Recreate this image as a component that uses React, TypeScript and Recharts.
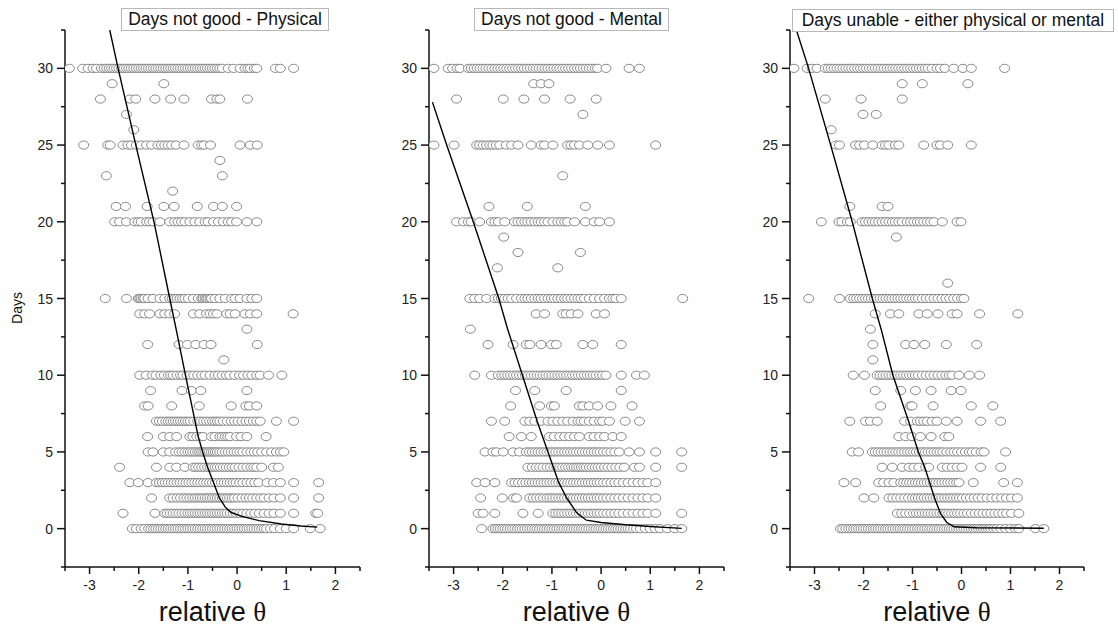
import React from 'react';
import { ScatterChart, Scatter, XAxis, YAxis } from 'recharts';

type Row = [number, number[]];

// days -> relative theta of every respondent at that level
const physicalRows: Row[] = [
  [30, [-3.41, -3.14, -3.03, -2.93, -2.86, -2.76, -2.7, -2.65, -2.6, -2.55, -2.5, -2.45, -2.4, -2.35, -2.3, -2.25, -2.2, -2.15, -2.1, -2.05, -2.0, -1.95, -1.9, -1.85, -1.8, -1.75, -1.7, -1.65, -1.6, -1.55, -1.5, -1.45, -1.4, -1.35, -1.3, -1.25, -1.2, -1.15, -1.1, -1.05, -1.0, -0.95, -0.9, -0.85, -0.8, -0.75, -0.7, -0.65, -0.6, -0.55, -0.5, -0.45, -0.4, -0.35, -0.3, -0.18, -0.07, 0.06, 0.16, 0.22, 0.27, 0.35, 0.4, 0.78, 0.88, 1.15]],
  [29, [-2.54, -1.49]],
  [28, [-2.78, -2.18, -2.06, -1.67, -1.35, -1.08, -0.52, -0.41, -0.35, 0.21]],
  [27, [-2.25]],
  [26, [-2.1]],
  [25, [-3.12, -2.63, -2.58, -2.32, -2.22, -2.15, -2.05, -1.95, -1.84, -1.74, -1.61, -1.54, -1.47, -1.4, -1.33, -1.24, -1.08, -0.79, -0.72, -0.67, -0.54, 0.06, 0.27, 0.41]],
  [24, [-0.35]],
  [23, [-2.66, -0.3]],
  [22, [-1.31]],
  [21, [-2.46, -2.27, -1.83, -1.49, -1.28, -0.81, -0.48, -0.3, -0.01]],
  [20, [-2.49, -2.39, -2.25, -2.08, -2.01, -1.95, -1.84, -1.78, -1.71, -1.57, -1.37, -1.27, -1.2, -1.13, -1.06, -0.96, -0.86, -0.76, -0.65, -0.59, -0.48, -0.38, -0.28, -0.18, -0.11, -0.01, 0.2, 0.4]],
  [15, [-2.68, -2.25, -2.01, -1.98, -1.95, -1.91, -1.88, -1.81, -1.71, -1.57, -1.47, -1.37, -1.32, -1.27, -1.22, -1.16, -1.11, -1.06, -0.99, -0.89, -0.79, -0.72, -0.69, -0.65, -0.62, -0.59, -0.55, -0.52, -0.45, -0.35, -0.24, -0.11, -0.04, 0.06, 0.2, 0.3, 0.4]],
  [14, [-1.98, -1.88, -1.78, -1.57, -1.47, -1.37, -1.27, -0.89, -0.76, -0.62, -0.55, -0.48, -0.41, -0.21, -0.14, -0.04, 0.16, 0.27, 0.4, 1.14]],
  [13, [0.2]],
  [12, [-1.82, -1.18, -1.01, -0.84, -0.67, -0.53, 0.41]],
  [11, [-0.27]],
  [10, [-1.98, -1.85, -1.72, -1.65, -1.55, -1.48, -1.4, -1.35, -1.3, -1.22, -1.15, -1.1, -1.02, -0.95, -0.88, -0.8, -0.72, -0.65, -0.55, -0.45, -0.38, -0.3, -0.22, -0.15, -0.05, 0.05, 0.13, 0.22, 0.3, 0.4, 0.47, 0.64, 0.91]],
  [9, [-1.76, -1.12, -0.93, -0.74, 0.2]],
  [8, [-1.88, -1.81, -1.33, -0.77, -0.12, 0.18, 0.25, 0.4]],
  [7, [-1.64, -1.58, -1.52, -1.45, -1.4, -1.35, -1.3, -1.25, -1.2, -1.15, -1.1, -1.05, -1.0, -0.95, -0.88, -0.8, -0.74, -0.68, -0.62, -0.56, -0.5, -0.45, -0.4, -0.35, -0.28, -0.2, -0.12, -0.05, 0.02, 0.1, 0.18, 0.25, 0.33, 0.4, 0.47, 0.8, 1.15]],
  [6, [-1.82, -1.5, -1.37, -1.23, -0.96, -0.9, -0.82, -0.75, -0.69, -0.52, -0.45, -0.35, -0.3, -0.24, -0.19, -0.14, -0.01, 0.08, 0.2, 0.59]],
  [5, [-1.81, -1.71, -1.5, -1.37, -1.25, -1.18, -1.12, -1.06, -1.0, -0.95, -0.9, -0.85, -0.8, -0.76, -0.72, -0.68, -0.64, -0.6, -0.56, -0.52, -0.48, -0.44, -0.4, -0.35, -0.3, -0.24, -0.18, -0.12, -0.06, 0.0, 0.06, 0.12, 0.2, 0.28, 0.35, 0.42, 0.5, 0.6, 0.7, 0.8, 0.88, 0.95]],
  [4, [-2.39, -1.64, -1.37, -1.23, -1.06, -0.89, -0.84, -0.78, -0.72, -0.66, -0.6, -0.55, -0.5, -0.45, -0.4, -0.34, -0.28, -0.22, -0.16, -0.1, -0.04, 0.04, 0.12, 0.2, 0.28, 0.34, 0.4, 0.5, 0.74, 0.84]],
  [3, [-2.18, -2.01, -1.81, -1.64, -1.58, -1.52, -1.46, -1.4, -1.34, -1.28, -1.22, -1.16, -1.1, -1.04, -0.98, -0.92, -0.86, -0.8, -0.74, -0.68, -0.62, -0.56, -0.5, -0.44, -0.38, -0.32, -0.26, -0.2, -0.14, -0.08, -0.02, 0.05, 0.12, 0.2, 0.28, 0.36, 0.44, 0.61, 0.74, 0.88, 1.15, 1.66]],
  [2, [-1.74, -1.37, -1.3, -1.22, -1.15, -1.08, -1.02, -0.96, -0.9, -0.85, -0.8, -0.75, -0.7, -0.65, -0.6, -0.55, -0.5, -0.45, -0.4, -0.35, -0.3, -0.25, -0.2, -0.15, -0.1, -0.05, 0.02, 0.1, 0.18, 0.25, 0.32, 0.4, 0.48, 0.55, 0.65, 0.75, 0.88, 1.15, 1.66]],
  [1, [-2.32, -1.67, -1.47, -1.42, -1.36, -1.3, -1.24, -1.18, -1.12, -1.06, -1.0, -0.95, -0.9, -0.85, -0.8, -0.75, -0.7, -0.65, -0.6, -0.55, -0.5, -0.45, -0.4, -0.35, -0.3, -0.25, -0.2, -0.14, -0.08, -0.02, 0.05, 0.12, 0.2, 0.28, 0.36, 0.45, 0.55, 0.65, 0.75, 0.88, 1.15, 1.6, 1.64]],
  [0, [-2.13, -2.05, -1.95, -1.88, -1.8, -1.75, -1.7, -1.65, -1.6, -1.55, -1.5, -1.45, -1.4, -1.35, -1.3, -1.25, -1.2, -1.15, -1.1, -1.05, -1.0, -0.95, -0.9, -0.85, -0.8, -0.75, -0.7, -0.65, -0.6, -0.55, -0.5, -0.45, -0.4, -0.35, -0.3, -0.25, -0.2, -0.15, -0.1, -0.05, 0.0, 0.05, 0.1, 0.15, 0.2, 0.25, 0.3, 0.35, 0.4, 0.45, 0.5, 0.55, 0.6, 0.68, 0.76, 0.88, 1.0, 1.15, 1.49, 1.69]],
];

const mentalRows: Row[] = [
  [30, [-3.4, -3.11, -3.02, -2.93, -2.87, -2.7, -2.64, -2.58, -2.52, -2.46, -2.4, -2.34, -2.28, -2.22, -2.16, -2.1, -2.04, -1.98, -1.92, -1.86, -1.8, -1.74, -1.68, -1.62, -1.56, -1.5, -1.44, -1.38, -1.32, -1.26, -1.2, -1.14, -1.08, -1.02, -0.96, -0.9, -0.84, -0.78, -0.72, -0.66, -0.6, -0.54, -0.48, -0.42, -0.36, -0.3, -0.24, -0.18, -0.12, -0.07, 0.1, 0.57, 0.78]],
  [29, [-1.37, -1.22, -1.06]],
  [28, [-2.94, -1.99, -1.57, -1.15, -0.63, -0.1]],
  [27, [-0.37]],
  [25, [-3.4, -2.99, -2.53, -2.47, -2.4, -2.33, -2.26, -2.2, -2.13, -2.06, -1.93, -1.82, -1.69, -1.42, -1.22, -1.15, -0.98, -0.68, -0.61, -0.54, -0.44, -0.27, -0.07, 0.17, 1.11]],
  [23, [-0.78]],
  [21, [-2.28, -1.5, -0.32]],
  [20, [-2.94, -2.8, -2.7, -2.64, -2.47, -2.23, -2.16, -2.09, -1.96, -1.76, -1.69, -1.62, -1.55, -1.49, -1.42, -1.35, -1.28, -1.22, -1.15, -1.08, -0.98, -0.88, -0.81, -0.74, -0.68, -0.54, -0.32, -0.14, -0.03, 0.17]],
  [19, [-1.98]],
  [18, [-1.69, -0.42]],
  [17, [-2.11, -0.88]],
  [15, [-2.67, -2.57, -2.47, -2.33, -2.16, -2.09, -2.03, -1.96, -1.89, -1.82, -1.72, -1.62, -1.55, -1.49, -1.42, -1.35, -1.28, -1.22, -1.15, -1.08, -1.01, -0.95, -0.88, -0.81, -0.74, -0.68, -0.61, -0.54, -0.47, -0.41, -0.34, -0.24, -0.14, -0.03, 0.07, 0.17, 0.24, 0.3, 0.41, 1.66]],
  [14, [-1.32, -1.15, -0.78, -0.71, -0.61, -0.47, -0.1, 0.07]],
  [13, [-2.66]],
  [12, [-2.3, -1.79, -1.52, -1.45, -1.22, -1.01, -0.91, -0.37, -0.17, 0.41]],
  [10, [-2.57, -2.23, -2.09, -2.02, -1.96, -1.9, -1.84, -1.78, -1.72, -1.66, -1.6, -1.54, -1.48, -1.42, -1.36, -1.3, -1.24, -1.18, -1.12, -1.06, -1.0, -0.94, -0.88, -0.82, -0.76, -0.7, -0.64, -0.58, -0.52, -0.46, -0.4, -0.34, -0.28, -0.22, -0.16, -0.1, -0.03, 0.03, 0.1, 0.41, 0.72, 0.88]],
  [9, [-1.74, -1.35, -0.71, 0.41]],
  [8, [-1.84, -1.25, -1.01, -0.95, -0.44, -0.37, -0.24, -0.07, 0.2, 0.63]],
  [7, [-2.23, -1.96, -1.55, -1.45, -1.35, -1.22, -1.08, -0.98, -0.88, -0.78, -0.68, -0.57, -0.47, -0.41, -0.34, -0.24, -0.14, -0.03, 0.03, 0.17, 0.49, 0.78]],
  [6, [-1.87, -1.62, -1.42, -1.05, -0.95, -0.84, -0.74, -0.64, -0.54, -0.44, -0.24, -0.14, -0.03, 0.07, 0.24, 0.41]],
  [5, [-2.36, -2.2, -2.13, -1.99, -1.79, -1.66, -1.52, -1.46, -1.4, -1.34, -1.28, -1.22, -1.16, -1.1, -1.04, -0.98, -0.92, -0.86, -0.8, -0.74, -0.68, -0.62, -0.56, -0.5, -0.44, -0.38, -0.32, -0.26, -0.2, -0.14, -0.08, -0.02, 0.05, 0.12, 0.2, 0.28, 0.37, 0.57, 0.78, 1.11, 1.64]],
  [4, [-1.49, -1.4, -1.32, -1.25, -1.18, -1.1, -1.03, -0.96, -0.9, -0.84, -0.78, -0.72, -0.66, -0.6, -0.55, -0.5, -0.45, -0.4, -0.35, -0.3, -0.24, -0.18, -0.12, -0.06, 0.0, 0.07, 0.14, 0.22, 0.3, 0.38, 0.47, 0.68, 0.78, 1.11, 1.64]],
  [3, [-2.53, -2.36, -2.16, -1.82, -1.75, -1.68, -1.6, -1.53, -1.46, -1.4, -1.34, -1.28, -1.22, -1.16, -1.1, -1.04, -0.98, -0.92, -0.86, -0.8, -0.74, -0.68, -0.62, -0.56, -0.5, -0.44, -0.38, -0.32, -0.26, -0.2, -0.14, -0.08, -0.02, 0.05, 0.12, 0.2, 0.28, 0.36, 0.45, 0.55, 0.65, 0.75, 0.85, 0.95, 1.11]],
  [2, [-2.45, -2.01, -1.78, -1.72, -1.45, -1.38, -1.31, -1.24, -1.17, -1.1, -1.04, -0.98, -0.92, -0.86, -0.8, -0.74, -0.68, -0.62, -0.56, -0.5, -0.44, -0.38, -0.32, -0.26, -0.2, -0.14, -0.08, -0.02, 0.05, 0.12, 0.2, 0.28, 0.36, 0.45, 0.55, 0.65, 0.75, 0.85, 0.95, 1.11]],
  [1, [-2.5, -2.4, -2.16, -1.59, -1.28, -0.98, -0.92, -0.86, -0.8, -0.74, -0.68, -0.62, -0.56, -0.5, -0.44, -0.38, -0.32, -0.26, -0.2, -0.14, -0.08, -0.02, 0.05, 0.12, 0.2, 0.28, 0.36, 0.45, 0.55, 0.65, 0.75, 0.85, 0.95, 1.11, 1.64]],
  [0, [-2.43, -2.2, -2.15, -2.1, -2.05, -2.0, -1.95, -1.9, -1.85, -1.8, -1.75, -1.7, -1.65, -1.6, -1.55, -1.5, -1.45, -1.4, -1.35, -1.3, -1.25, -1.2, -1.15, -1.1, -1.05, -1.0, -0.95, -0.9, -0.85, -0.8, -0.75, -0.7, -0.65, -0.6, -0.55, -0.5, -0.45, -0.4, -0.35, -0.3, -0.25, -0.2, -0.15, -0.1, -0.05, 0.0, 0.05, 0.1, 0.15, 0.2, 0.25, 0.3, 0.35, 0.4, 0.45, 0.5, 0.55, 0.6, 0.66, 0.72, 0.8, 0.9, 1.0, 1.1, 1.2, 1.35, 1.5, 1.64]],
];

const eitherRows: Row[] = [
  [30, [-3.42, -3.15, -3.05, -2.95, -2.78, -2.72, -2.66, -2.6, -2.54, -2.48, -2.42, -2.36, -2.3, -2.24, -2.18, -2.12, -2.06, -2.0, -1.94, -1.88, -1.82, -1.76, -1.7, -1.64, -1.58, -1.52, -1.46, -1.4, -1.34, -1.28, -1.22, -1.16, -1.1, -1.04, -0.98, -0.92, -0.86, -0.8, -0.74, -0.68, -0.6, -0.5, -0.43, -0.34, -0.16, 0.03, 0.2, 0.88]],
  [29, [-1.21, -0.8, 0.13]],
  [28, [-2.78, -2.05, -1.21]],
  [27, [-2.01, -1.74]],
  [26, [-2.66]],
  [25, [-2.56, -2.49, -2.16, -2.08, -1.98, -1.81, -1.62, -1.55, -1.48, -1.35, -1.28, -0.77, -0.5, -0.43, -0.28, 0.2]],
  [21, [-2.28, -1.62, -1.5]],
  [20, [-2.86, -2.5, -2.44, -2.33, -2.27, -2.03, -1.96, -1.89, -1.82, -1.76, -1.69, -1.62, -1.55, -1.48, -1.41, -1.35, -1.28, -1.21, -1.11, -1.04, -0.97, -0.9, -0.84, -0.77, -0.7, -0.63, -0.56, -0.39, -0.09, -0.01]],
  [19, [-1.33]],
  [16, [-0.28]],
  [15, [-3.12, -2.49, -2.27, -2.2, -2.14, -2.08, -2.02, -1.96, -1.9, -1.84, -1.78, -1.72, -1.66, -1.6, -1.54, -1.48, -1.42, -1.36, -1.3, -1.24, -1.18, -1.12, -1.06, -1.0, -0.94, -0.88, -0.8, -0.72, -0.64, -0.56, -0.48, -0.4, -0.32, -0.24, -0.16, -0.08, 0.0, 0.05]],
  [14, [-1.76, -1.45, -1.28, -0.87, -0.7, -0.48, -0.19, -0.09, 0.37, 1.15]],
  [13, [-1.86]],
  [12, [-1.81, -1.14, -0.97, -0.75, -0.31, 0.31]],
  [11, [-1.81]],
  [10, [-2.21, -1.98, -1.72, -1.66, -1.6, -1.54, -1.48, -1.42, -1.36, -1.3, -1.24, -1.18, -1.12, -1.06, -1.0, -0.94, -0.88, -0.8, -0.72, -0.64, -0.56, -0.48, -0.4, -0.32, -0.25, -0.19, -0.05, 0.16, 0.37]],
  [9, [-1.76, -1.24, -0.94, -0.62, -0.21, -0.01]],
  [8, [-1.65, -1.04, -1.01, -0.58, 0.2, 0.64]],
  [7, [-2.28, -1.96, -1.86, -1.72, -1.16, -1.04, -0.9, -0.84, -0.77, -0.7, -0.6, -0.5, -0.31, -0.09, 0.39, 0.8]],
  [6, [-1.28, -1.14, -1.01, -0.84, -0.62, -0.34, -0.26]],
  [5, [-2.23, -2.1, -1.82, -1.76, -1.7, -1.64, -1.58, -1.52, -1.46, -1.4, -1.34, -1.28, -1.22, -1.16, -1.1, -1.04, -0.98, -0.92, -0.86, -0.8, -0.74, -0.68, -0.62, -0.56, -0.5, -0.44, -0.38, -0.3, -0.22, -0.15, -0.08, 0.0, 0.08, 0.16, 0.22, 0.3, 0.4, 0.46, 0.9]],
  [4, [-1.62, -1.41, -1.21, -1.07, -0.97, -0.87, -0.73, -0.67, -0.39, -0.29, -0.19, -0.09, 0.01, 0.39, 0.8]],
  [3, [-2.4, -2.16, -1.69, -1.59, -1.48, -1.38, -1.24, -1.18, -1.12, -1.06, -1.0, -0.94, -0.88, -0.82, -0.76, -0.7, -0.64, -0.58, -0.52, -0.46, -0.4, -0.34, -0.28, -0.22, -0.16, -0.1, -0.05, 0.24, 0.86, 1.14]],
  [2, [-1.99, -1.79, -1.48, -1.4, -1.32, -1.24, -1.16, -1.08, -1.0, -0.94, -0.88, -0.82, -0.76, -0.7, -0.64, -0.58, -0.52, -0.46, -0.4, -0.34, -0.28, -0.22, -0.16, -0.1, -0.04, 0.02, 0.1, 0.18, 0.26, 0.34, 0.42, 0.52, 0.62, 0.72, 0.82, 0.92, 1.02, 1.14]],
  [1, [-1.31, -1.22, -1.14, -1.06, -0.98, -0.92, -0.86, -0.8, -0.74, -0.68, -0.62, -0.56, -0.5, -0.44, -0.38, -0.32, -0.26, -0.2, -0.14, -0.08, -0.02, 0.05, 0.12, 0.2, 0.28, 0.36, 0.44, 0.52, 0.6, 0.68, 0.76, 0.84, 0.92, 1.02, 1.17]],
  [0, [-2.47, -2.42, -2.36, -2.3, -2.25, -2.2, -2.15, -2.1, -2.05, -2.0, -1.95, -1.9, -1.85, -1.8, -1.75, -1.7, -1.65, -1.6, -1.55, -1.5, -1.45, -1.4, -1.35, -1.3, -1.25, -1.2, -1.15, -1.1, -1.05, -1.0, -0.95, -0.9, -0.85, -0.8, -0.75, -0.7, -0.65, -0.6, -0.55, -0.5, -0.45, -0.4, -0.35, -0.3, -0.25, -0.2, -0.15, -0.1, -0.05, 0.0, 0.05, 0.1, 0.15, 0.2, 0.25, 0.3, 0.35, 0.4, 0.45, 0.5, 0.55, 0.6, 0.66, 0.72, 0.8, 0.9, 1.0, 1.1, 1.17, 1.51, 1.68]],
];

// fitted curves: [relative theta, days]
const physicalFit: [number, number][] = [
  [-2.59, 32.5], [-2.42, 30], [-2.24, 27.5], [-2.06, 25], [-1.69, 20], [-1.37, 15], [-1.24, 13], [-1.05, 10],
  [-0.92, 8], [-0.79, 6], [-0.7, 5], [-0.6, 4], [-0.48, 3], [-0.36, 2], [-0.24, 1.4], [-0.12, 1.05], [0.1, 0.8],
  [0.45, 0.52], [0.9, 0.3], [1.3, 0.17], [1.63, 0.1],
];
const mentalFit: [number, number][] = [
  [-3.43, 27.8], [-3.14, 25], [-2.6, 20], [-2.08, 15], [-1.9, 13], [-1.6, 10], [-1.3, 7], [-1.08, 5],
  [-0.86, 3], [-0.7, 2], [-0.5, 1.05], [-0.3, 0.55], [0.0, 0.4], [0.5, 0.25], [1.0, 0.14], [1.64, 0.02],
];
const eitherFit: [number, number][] = [
  [-3.37, 32.5], [-3.12, 30], [-2.67, 25], [-2.23, 20], [-1.82, 15], [-1.64, 13], [-1.4, 10], [-1.08, 7],
  [-0.88, 5], [-0.75, 4], [-0.65, 3], [-0.55, 2], [-0.43, 1], [-0.3, 0.4], [-0.15, 0.12], [0.3, 0.06], [1.68, 0.03],
];

const titles = ['Days not good - Physical', 'Days not good - Mental', 'Days unable - either physical or mental'];
const xTicks = [-3.5, -3, -2.5, -2, -1.5, -1, -0.5, 0, 0.5, 1, 1.5, 2, 2.5];
const yTicks = [-2.5, 0, 2.5, 5, 7.5, 10, 12.5, 15, 17.5, 20, 22.5, 25, 27.5, 30, 32.5];

const FONT = 'Arial, "Liberation Sans", Helvetica, sans-serif';

const Ring = (p: any) => (
  <ellipse cx={p.cx} cy={p.cy} rx={5} ry={4.1} fill="#fff" stroke="#888" strokeWidth={1} />
);
const NoDot = () => <g />;

const XTick = ({ x, y, payload }: any) => {
  const v = payload.value;
  const major = Number.isInteger(v);
  return (
    <g>
      <line x1={x} x2={x} y1={y} y2={y + (major ? 7 : 4)} stroke="#111" strokeWidth={1.5} />
      {major && (
        <text x={x} y={y + 23} textAnchor="middle" fontSize={14} fontFamily={FONT} fill="#222">
          {v}
        </text>
      )}
    </g>
  );
};

const YTick = ({ x, y, payload }: any) => {
  const v = payload.value;
  const major = Number.isInteger(v);
  return (
    <g>
      <line x1={x - (major ? 8 : 4)} x2={x} y1={y} y2={y} stroke="#111" strokeWidth={1.5} />
      {major && (
        <text x={x - 12} y={y + 5} textAnchor="end" fontSize={14} fontFamily={FONT} fill="#222">
          {v}
        </text>
      )}
    </g>
  );
};

const panels = [
  { rows: physicalRows, fit: physicalFit, plotLeft: 65, plotRight: 360, box: { left: 121, top: 8, width: 208 } },
  { rows: mentalRows, fit: mentalFit, plotLeft: 429, plotRight: 724, box: { left: 474, top: 8, width: 195 } },
  { rows: eitherRows, fit: eitherFit, plotLeft: 790, plotRight: 1084, box: { left: 792, top: 9, width: 322 } },
];

const Panel = ({ rows, fit, plotLeft, plotRight }: any) => {
  const points = (rows as Row[]).flatMap(([d, xs]) => xs.map((x) => ({ x, y: d })));
  const curve = (fit as [number, number][]).map(([x, y]) => ({ x, y }));
  const w = plotRight - plotLeft;
  return (
    <div style={{ position: 'absolute', left: plotLeft - 65, top: 0 }}>
      <ScatterChart width={w + 77} height={635} margin={{ top: 30, right: 12, left: 20, bottom: 38 }}>
        <XAxis
          type="number"
          dataKey="x"
          domain={[-3.5, 2.5]}
          ticks={xTicks}
          interval={0}
          tick={XTick}
          tickLine={false}
          tickSize={0}
          tickMargin={0}
          height={30}
          axisLine={{ stroke: '#111', strokeWidth: 1.5 }}
          allowDataOverflow
        />
        <YAxis
          type="number"
          dataKey="y"
          domain={[-2.5, 32.5]}
          ticks={yTicks}
          interval={0}
          tick={YTick}
          tickLine={false}
          tickSize={0}
          tickMargin={0}
          width={45}
          axisLine={{ stroke: '#111', strokeWidth: 1.5 }}
          allowDataOverflow
        />
        <Scatter data={points} shape={Ring} isAnimationActive={false} />
        <Scatter data={curve} shape={NoDot} line={{ stroke: '#000', strokeWidth: 1.4 }} isAnimationActive={false} />
      </ScatterChart>
    </div>
  );
};

export default function App() {
  return (
    <div style={{ position: 'absolute', left: 0, top: 0, width: 1118, height: 635, background: '#fff', overflow: 'hidden', fontFamily: FONT }}>
      {panels.map((p, i) => (
        <Panel key={i} {...p} />
      ))}
      {panels.map((p, i) => (
        <div
          key={'t' + i}
          style={{
            position: 'absolute',
            left: p.box.left,
            top: p.box.top,
            width: p.box.width,
            height: 23,
            boxSizing: 'border-box',
            border: '1px solid #b8b8b8',
            background: '#fff',
            fontSize: 17.5,
            lineHeight: '21px',
            textAlign: 'center',
            color: '#111',
            whiteSpace: 'nowrap',
          }}
        >
          {titles[i]}
        </div>
      ))}
      {panels.map((p, i) => (
        <div
          key={'x' + i}
          style={{
            position: 'absolute',
            left: (p.plotLeft + p.plotRight) / 2 - 80,
            top: 596,
            width: 160,
            textAlign: 'center',
            fontSize: 27,
            lineHeight: '32px',
            color: '#111',
            whiteSpace: 'nowrap',
          }}
        >
          relative <span style={{ fontFamily: '"Liberation Serif", "DejaVu Serif", serif' }}>θ</span>
        </div>
      ))}
      <div
        style={{
          position: 'absolute',
          left: 17,
          top: 308,
          transform: 'translate(-50%, -50%) rotate(-90deg)',
          fontSize: 14,
          color: '#111',
          whiteSpace: 'nowrap',
        }}
      >
        Days
      </div>
    </div>
  );
}
